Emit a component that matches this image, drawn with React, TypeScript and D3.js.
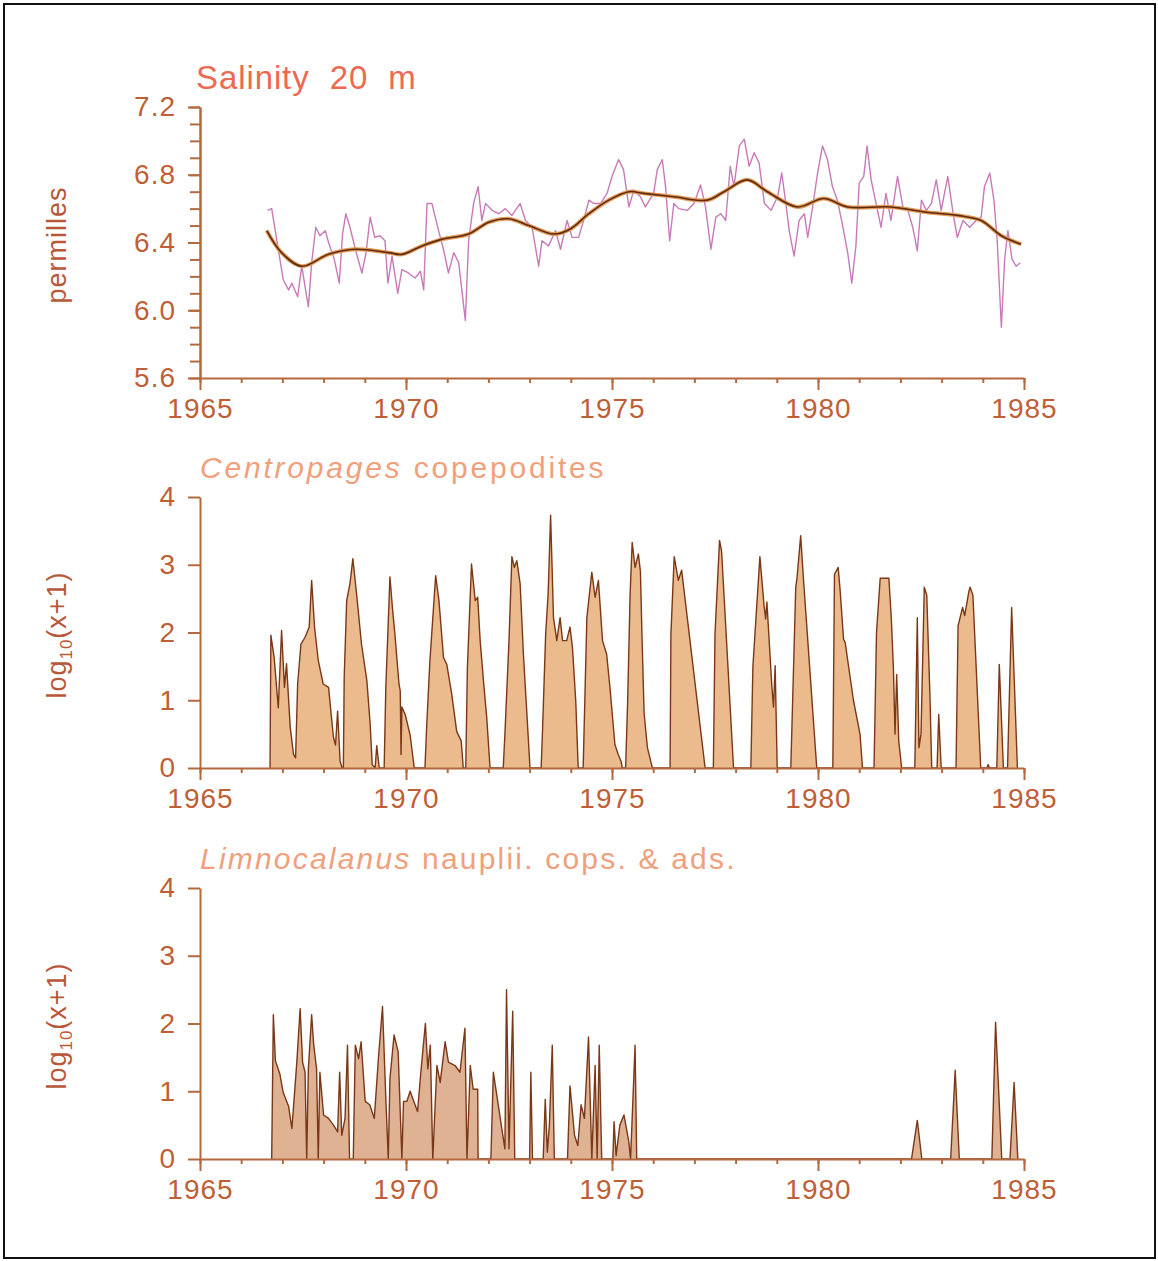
import * as React from "react";
import { useRef, useEffect } from "react";
import * as d3 from "d3";

const yearTicks = [1965, 1970, 1975, 1980, 1985];
const yearMinorTicks = d3.range(1965, 1986);
const salinityTicks = [5.6, 6.0, 6.4, 6.8, 7.2];
const salinityMinorTicks = d3.range(56, 73).map((d) => d / 10);
const countTicks = [0, 1, 2, 3, 4];

// salinity at 20 m, [year, permille]
const salinityRaw: [number, number][] = [
  [1966.64, 6.59], [1966.74, 6.6], [1966.94, 6.3], [1967.02, 6.18], [1967.15, 6.12], [1967.23, 6.16],
  [1967.37, 6.08], [1967.47, 6.26], [1967.63, 6.02], [1967.71, 6.28], [1967.81, 6.49], [1967.91, 6.44],
  [1968.04, 6.47], [1968.12, 6.4], [1968.26, 6.3], [1968.38, 6.16], [1968.46, 6.45], [1968.54, 6.57],
  [1968.64, 6.49], [1968.77, 6.36], [1968.93, 6.22], [1969.03, 6.34], [1969.13, 6.55], [1969.24, 6.43],
  [1969.37, 6.44], [1969.49, 6.41], [1969.56, 6.16], [1969.66, 6.32], [1969.8, 6.1], [1969.9, 6.24],
  [1970.06, 6.22], [1970.22, 6.19], [1970.35, 6.23], [1970.43, 6.12], [1970.51, 6.63], [1970.63, 6.63],
  [1970.79, 6.47], [1970.91, 6.36], [1971.03, 6.22], [1971.16, 6.34], [1971.28, 6.28], [1971.44, 5.94],
  [1971.52, 6.41], [1971.64, 6.63], [1971.75, 6.73], [1971.84, 6.53], [1971.93, 6.63], [1972.09, 6.59],
  [1972.25, 6.57], [1972.41, 6.6], [1972.57, 6.56], [1972.77, 6.63], [1972.9, 6.53], [1973.06, 6.49],
  [1973.22, 6.26], [1973.3, 6.41], [1973.46, 6.38], [1973.63, 6.47], [1973.75, 6.36], [1973.91, 6.53],
  [1974.03, 6.43], [1974.19, 6.43], [1974.31, 6.53], [1974.44, 6.65], [1974.56, 6.63], [1974.72, 6.63],
  [1974.88, 6.69], [1975.0, 6.79], [1975.16, 6.89], [1975.28, 6.83], [1975.41, 6.61], [1975.53, 6.71],
  [1975.69, 6.67], [1975.81, 6.61], [1976.01, 6.69], [1976.1, 6.83], [1976.22, 6.89], [1976.3, 6.73],
  [1976.4, 6.41], [1976.5, 6.63], [1976.62, 6.6], [1976.83, 6.59], [1976.99, 6.63], [1977.15, 6.74],
  [1977.27, 6.61], [1977.4, 6.36], [1977.52, 6.55], [1977.64, 6.57], [1977.76, 6.53], [1977.87, 6.85],
  [1977.96, 6.73], [1978.09, 6.97], [1978.21, 7.01], [1978.33, 6.85], [1978.45, 6.93], [1978.57, 6.87],
  [1978.7, 6.63], [1978.86, 6.59], [1979.02, 6.67], [1979.12, 6.81], [1979.22, 6.63], [1979.3, 6.47],
  [1979.42, 6.32], [1979.54, 6.53], [1979.67, 6.57], [1979.75, 6.43], [1979.87, 6.61], [1979.99, 6.81],
  [1980.11, 6.97], [1980.23, 6.89], [1980.35, 6.73], [1980.47, 6.65], [1980.59, 6.51], [1980.72, 6.34],
  [1980.82, 6.16], [1980.92, 6.38], [1981.0, 6.75], [1981.11, 6.79], [1981.19, 6.97], [1981.29, 6.77],
  [1981.41, 6.63], [1981.53, 6.49], [1981.65, 6.69], [1981.77, 6.53], [1981.93, 6.79], [1982.06, 6.61],
  [1982.18, 6.59], [1982.3, 6.49], [1982.41, 6.35], [1982.51, 6.65], [1982.63, 6.59], [1982.75, 6.63],
  [1982.87, 6.77], [1982.99, 6.59], [1983.15, 6.79], [1983.28, 6.57], [1983.38, 6.43], [1983.52, 6.53],
  [1983.68, 6.49], [1983.84, 6.53], [1983.96, 6.55], [1984.04, 6.73], [1984.17, 6.81], [1984.27, 6.65],
  [1984.35, 6.41], [1984.45, 5.9], [1984.53, 6.3], [1984.61, 6.47], [1984.71, 6.3], [1984.81, 6.26],
  [1984.91, 6.28],
];

// smoothed trend of the same series
const salinitySmooth: [number, number][] = [
  [1966.62, 6.47], [1966.98, 6.34], [1967.47, 6.26], [1968.12, 6.33], [1968.77, 6.36], [1969.58, 6.34],
  [1969.9, 6.33], [1970.39, 6.38], [1970.88, 6.42], [1971.52, 6.45], [1972.01, 6.52], [1972.49, 6.54],
  [1972.98, 6.5], [1973.59, 6.45], [1973.99, 6.48], [1974.44, 6.57], [1974.92, 6.65], [1975.41, 6.7],
  [1975.77, 6.69], [1976.5, 6.67], [1977.31, 6.65], [1977.72, 6.7], [1978.28, 6.77], [1978.77, 6.7],
  [1979.5, 6.61], [1980.14, 6.66], [1980.72, 6.61], [1981.77, 6.61], [1982.58, 6.58], [1983.39, 6.56],
  [1983.96, 6.53], [1984.45, 6.44], [1984.93, 6.39],
];

// Centropages copepodites, log10(x+1)
const centropages: [number, number][] = [
  [1966.7, 0], [1966.72, 1.96], [1966.8, 1.63], [1966.9, 0.89], [1966.98, 2.03], [1967.05, 1.19],
  [1967.1, 1.54], [1967.19, 0.6], [1967.27, 0.2], [1967.32, 0.15], [1967.37, 1.24], [1967.45, 1.83],
  [1967.55, 1.93], [1967.65, 2.08], [1967.71, 2.77], [1967.78, 2.08], [1967.87, 1.59], [1967.99, 1.24],
  [1968.12, 1.19], [1968.24, 0.45], [1968.29, 0.34], [1968.34, 0.84], [1968.4, 0.1], [1968.45, 0],
  [1968.48, 0], [1968.5, 1.34], [1968.56, 2.47], [1968.64, 2.72], [1968.71, 3.09], [1968.8, 2.57],
  [1968.92, 1.83], [1969.05, 1.29], [1969.13, 0.65], [1969.18, 0.05], [1969.25, 0], [1969.29, 0.33],
  [1969.35, 0],
  [1969.47, 0], [1969.51, 1.19], [1969.61, 2.82], [1969.67, 2.37], [1969.73, 1.98], [1969.83, 1.24],
  [1969.86, 1.14], [1969.88, 0.2], [1969.9, 0.9], [1969.98, 0.79], [1970.1, 0.49], [1970.2, 0],
  [1970.46, 0], [1970.5, 0.59], [1970.58, 1.58], [1970.72, 2.84], [1970.8, 2.47], [1970.91, 1.63],
  [1970.99, 1.53], [1971.11, 1.09], [1971.23, 0.54], [1971.34, 0.4], [1971.39, 0],
  [1971.45, 0], [1971.49, 1.48], [1971.59, 3.01], [1971.68, 2.47], [1971.74, 2.52], [1971.8, 1.88],
  [1971.88, 1.29], [1971.96, 0.74], [1972.04, 0],
  [1972.36, 0], [1972.4, 0.49], [1972.5, 1.88], [1972.57, 3.12], [1972.63, 2.96], [1972.69, 3.06],
  [1972.77, 2.72], [1972.85, 1.68], [1972.93, 0.84], [1973.01, 0],
  [1973.28, 0], [1973.31, 0.49], [1973.39, 1.98], [1973.45, 2.57], [1973.51, 3.73], [1973.58, 2.22],
  [1973.66, 1.88], [1973.74, 2.22], [1973.8, 1.88], [1973.9, 1.88], [1973.98, 2.08], [1974.04, 1.78],
  [1974.12, 0.99], [1974.18, 0],
  [1974.3, 0], [1974.39, 2.22], [1974.51, 2.89], [1974.59, 2.52], [1974.67, 2.77], [1974.77, 1.88],
  [1974.87, 1.68], [1974.95, 1.19], [1975.07, 0.35], [1975.15, 0.2], [1975.22, 0.1], [1975.25, 0],
  [1975.33, 0], [1975.38, 0.99], [1975.44, 2.57], [1975.49, 3.33], [1975.56, 2.96], [1975.64, 3.16],
  [1975.69, 2.9], [1975.73, 1.9], [1975.78, 0.8], [1975.86, 0.3], [1975.98, 0],
  [1976.41, 0], [1976.43, 1.98], [1976.51, 3.12], [1976.61, 2.77], [1976.69, 2.92], [1977.26, 0],
  [1977.46, 0], [1977.5, 1.98], [1977.61, 3.36], [1977.66, 3.2], [1977.95, 0],
  [1978.37, 0], [1978.42, 1.5], [1978.59, 3.12], [1978.69, 2.4], [1978.73, 2.2], [1978.76, 2.45],
  [1978.88, 1.2], [1978.92, 0.9], [1978.96, 1.51], [1979.01, 0],
  [1979.34, 0], [1979.46, 2.67], [1979.49, 2.8], [1979.58, 3.43], [1979.64, 2.85], [1979.97, 0],
  [1980.36, 0], [1980.4, 2.86], [1980.49, 2.96], [1980.54, 2.6], [1980.62, 1.9], [1980.66, 1.85],
  [1980.86, 1.0], [1981.02, 0.5], [1981.08, 0],
  [1981.36, 0], [1981.42, 2.0], [1981.51, 2.8], [1981.72, 2.8], [1981.78, 2.2], [1981.83, 1.48],
  [1981.87, 0.5], [1981.91, 1.38], [1981.96, 0.4], [1982.03, 0],
  [1982.35, 0], [1982.41, 2.22], [1982.45, 0.3], [1982.5, 0.5], [1982.58, 2.67], [1982.64, 2.55],
  [1982.72, 1.0], [1982.76, 0], [1982.89, 0], [1982.93, 0.79], [1982.99, 0],
  [1983.35, 0], [1983.4, 2.1], [1983.51, 2.37], [1983.56, 2.25], [1983.66, 2.6], [1983.69, 2.67],
  [1983.76, 2.55], [1983.95, 0], [1984.1, 0], [1984.13, 0.05], [1984.16, 0],
  [1984.34, 0], [1984.4, 1.53], [1984.5, 0], [1984.6, 0], [1984.7, 2.37], [1984.84, 0],
];

// Limnocalanus nauplii, copepodites and adults, log10(x+1)
const limnocalanus: [number, number][] = [
  [1966.74, 0], [1966.78, 2.13], [1966.83, 1.45], [1966.94, 1.25], [1967.02, 0.98], [1967.15, 0.78],
  [1967.23, 0.45], [1967.28, 0.85], [1967.35, 1.43], [1967.43, 2.22], [1967.49, 1.43], [1967.55, 1.28],
  [1967.59, 0], [1967.63, 1.33], [1967.71, 2.13], [1967.76, 1.68], [1967.83, 1.33], [1967.87, 0],
  [1967.91, 1.28], [1968.0, 0.65], [1968.12, 0.6], [1968.24, 0.5], [1968.34, 0.4], [1968.39, 1.28],
  [1968.44, 0.35], [1968.52, 0.6], [1968.58, 1.68], [1968.63, 0], [1968.72, 0], [1968.77, 1.68],
  [1968.85, 1.48], [1968.91, 1.73], [1969.01, 0.85], [1969.12, 0.8], [1969.23, 0.6], [1969.33, 1.48],
  [1969.43, 2.25], [1969.51, 0.9], [1969.57, 0], [1969.61, 1.18], [1969.71, 1.83], [1969.81, 1.58],
  [1969.9, 0], [1969.94, 0.85], [1970.02, 0.85], [1970.1, 1.0], [1970.19, 0.85], [1970.28, 0.7],
  [1970.36, 1.28], [1970.47, 2.0], [1970.53, 1.33], [1970.59, 1.68], [1970.65, 0], [1970.75, 1.38],
  [1970.83, 1.13], [1970.95, 1.73], [1971.03, 1.43], [1971.19, 1.38], [1971.31, 1.28], [1971.43, 1.93],
  [1971.48, 0], [1971.56, 1.38], [1971.63, 1.03], [1971.74, 1.03], [1971.75, 0],
  [1972.06, 0], [1972.12, 1.28], [1972.4, 0.15], [1972.44, 2.5], [1972.5, 0.15], [1972.59, 2.18],
  [1972.64, 0],
  [1973.0, 0], [1973.03, 1.28], [1973.07, 0], [1973.33, 0], [1973.38, 0.88], [1973.43, 0.1],
  [1973.48, 0.5], [1973.55, 1.68], [1973.6, 0],
  [1973.92, 0], [1973.98, 1.08], [1974.09, 0.35], [1974.17, 0.2], [1974.25, 0.8], [1974.33, 0.6],
  [1974.43, 1.8], [1974.51, 0], [1974.59, 1.38], [1974.64, 0], [1974.69, 1.68], [1974.75, 0],
  [1975.02, 0], [1975.05, 0.55], [1975.1, 0.05], [1975.19, 0.5], [1975.29, 0.65], [1975.41, 0.25],
  [1975.45, 0], [1975.56, 1.68], [1975.6, 0],
  [1982.27, 0], [1982.41, 0.57], [1982.52, 0], [1983.22, 0], [1983.33, 1.31], [1983.43, 0],
  [1984.22, 0], [1984.31, 2.02], [1984.46, 0], [1984.66, 0], [1984.76, 1.13], [1984.85, 0],
];

const axisColor = "#b5693f";
const labelColor = "#bf5f38";
const font = "'Liberation Sans', Arial, sans-serif";

const App = () => {
  const svgRef = useRef<SVGSVGElement>(null);

  useEffect(() => {
    const svg = d3.select(svgRef.current);
    svg.selectAll("*").remove();

    const x = d3.scaleLinear().domain([1965, 1985]).range([200, 1024]);

    // frame
    svg
      .append("rect")
      .attr("x", 4)
      .attr("y", 4)
      .attr("width", 1151)
      .attr("height", 1254)
      .attr("fill", "none")
      .attr("stroke", "#111")
      .attr("stroke-width", 2);

    const styleAxis = (g) => {
      g.attr("font-family", font).attr("font-size", 28);
      g.select(".domain").attr("stroke", axisColor).attr("stroke-width", 2);
      g.selectAll(".tick line").attr("stroke", axisColor).attr("stroke-width", 2);
      g.selectAll(".tick text").attr("fill", labelColor).attr("letter-spacing", 1);
    };

    const drawAxes = (y, ticks, fmt, minor) => {
      const [y0] = y.range();
      const xg = svg.append("g").attr("transform", `translate(0,${y0})`);
      xg.call(d3.axisBottom(x).tickValues(yearMinorTicks).tickSize(5).tickSizeOuter(0).tickFormat(() => ""));
      styleAxis(xg);
      const xm = svg.append("g").attr("transform", `translate(0,${y0})`);
      xm.call(d3.axisBottom(x).tickValues(yearTicks).tickSize(12).tickPadding(8).tickSizeOuter(0).tickFormat(d3.format("d")));
      styleAxis(xm);
      xm.select(".domain").remove();

      if (minor) {
        const ym = svg.append("g").attr("transform", `translate(200,0)`);
        ym.call(d3.axisLeft(y).tickValues(minor).tickSize(10).tickSizeOuter(0).tickFormat(() => ""));
        styleAxis(ym);
      }
      const yg = svg.append("g").attr("transform", `translate(200,0)`);
      yg.call(d3.axisLeft(y).tickValues(ticks).tickSize(12).tickPadding(12).tickSizeOuter(0).tickFormat(fmt));
      styleAxis(yg);
    };

    const yLabel = (cx, cy, parts) => {
      const t = svg
        .append("text")
        .attr("transform", `translate(${cx},${cy}) rotate(-90)`)
        .attr("text-anchor", "middle")
        .attr("font-family", font)
        .attr("font-size", 27)
        .attr("fill", "#b8583a")
        .attr("letter-spacing", 1);
      parts(t);
    };

    // ---- Salinity panel
    const ySal = d3.scaleLinear().domain([5.6, 7.2]).range([378, 107]);
    const salLine = d3
      .line<[number, number]>()
      .x((d) => x(d[0]))
      .y((d) => ySal(d[1]));
    svg
      .append("path")
      .datum(salinityRaw)
      .attr("fill", "none")
      .attr("stroke", "#c97ab8")
      .attr("stroke-width", 1.4)
      .attr("stroke-linejoin", "round")
      .attr("d", salLine);
    const smooth = salLine.curve(d3.curveCatmullRom.alpha(0.5));
    svg
      .append("path")
      .datum(salinitySmooth)
      .attr("fill", "none")
      .attr("stroke", "#e29a58")
      .attr("stroke-width", 4)
      .attr("d", smooth);
    svg
      .append("path")
      .datum(salinitySmooth)
      .attr("fill", "none")
      .attr("stroke", "#5e2a10")
      .attr("stroke-width", 1.6)
      .attr("d", smooth);
    drawAxes(ySal, salinityTicks, d3.format(".1f"), salinityMinorTicks);

    svg
      .append("text")
      .attr("x", 196)
      .attr("y", 89)
      .attr("font-family", font)
      .attr("font-size", 33)
      .attr("letter-spacing", 0.9)
      .attr("fill", "#ec6a52")
      .attr("xml:space", "preserve")
      .text("Salinity  20  m");
    yLabel(66, 245, (t) => t.text("permilles"));

    // ---- abundance panels
    const drawArea = (data, top, fill, spacing, italic, rest) => {
      const y = d3.scaleLinear().domain([0, 4]).range([top + 271, top]);
      const area = d3
        .area<[number, number]>()
        .x((d) => x(d[0]))
        .y0(y(0))
        .y1((d) => y(d[1]));
      const line = d3
        .line<[number, number]>()
        .x((d) => x(d[0]))
        .y((d) => y(d[1]));
      svg.append("path").datum(data).attr("fill", fill).attr("d", area);
      svg
        .append("path")
        .datum(data)
        .attr("fill", "none")
        .attr("stroke", "#7a3818")
        .attr("stroke-width", 1.4)
        .attr("stroke-linejoin", "round")
        .attr("d", line);
      drawAxes(y, countTicks, d3.format("d"), null);

      const t = svg
        .append("text")
        .attr("x", 200)
        .attr("y", top - 19)
        .attr("font-family", font)
        .attr("font-size", 30)
        .attr("letter-spacing", spacing)
        .attr("xml:space", "preserve")
        .attr("fill", "#f0a07c");
      t.append("tspan").attr("font-style", "italic").text(italic);
      t.append("tspan").text(rest);

      yLabel(66, top + 138, (lt) => {
        lt.append("tspan").text("log");
        lt.append("tspan").attr("font-size", 17).attr("dy", 6).text("10");
        lt.append("tspan").attr("dy", -6).text("(x+1)");
      });
    };

    drawArea(centropages, 497, "#ebbb8d", 2.8, "Centropages", " copepodites");
    drawArea(limnocalanus, 888, "#dfb294", 2.2, "Limnocalanus", " nauplii. cops. & ads.");
  }, []);

  return (
    <svg
      ref={svgRef}
      width={1158}
      height={1261}
      style={{ position: "absolute", left: 0, top: 0, background: "#fff" }}
    ></svg>
  );
};

export default App;
